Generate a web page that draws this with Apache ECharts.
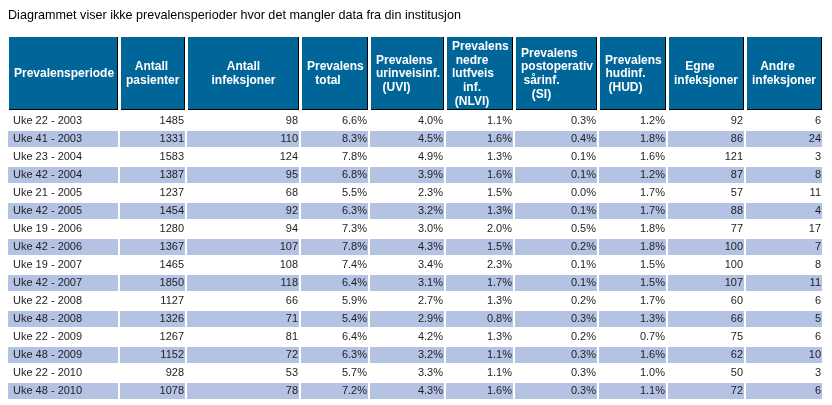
<!DOCTYPE html>
<html>
<head>
<meta charset="utf-8">
<script src="https://cdn.jsdelivr.net/npm/echarts@6/dist/echarts.min.js"></script>
<style>
  html, body { margin: 0; padding: 0; background: #ffffff; }
  #chart { width: 832px; height: 405px; }
</style>
</head>
<body>
<div id="chart"></div>
<script>
// ---------------- DATA ----------------
const titleText = 'Diagrammet viser ikke prevalensperioder hvor det mangler data fra din institusjon';

const headerLabels = [
  'Prevalensperiode',
  'Antall\npasienter',
  'Antall\ninfeksjoner',
  'Prevalens\ntotal',
  'Prevalens\nurinveisinf.\n(UVI)',
  'Prevalens\nnedre\nlutfveis\ninf.\n(NLVI)',
  'Prevalens\npostoperativ\nsårinf.\n(SI)',
  'Prevalens\nhudinf.\n(HUD)',
  'Egne\ninfeksjoner',
  'Andre\ninfeksjoner'
];

const periods = [
  'Uke 22 - 2003', 'Uke 41 - 2003', 'Uke 23 - 2004', 'Uke 42 - 2004',
  'Uke 21 - 2005', 'Uke 42 - 2005', 'Uke 19 - 2006', 'Uke 42 - 2006',
  'Uke 19 - 2007', 'Uke 42 - 2007', 'Uke 22 - 2008', 'Uke 48 - 2008',
  'Uke 22 - 2009', 'Uke 48 - 2009', 'Uke 22 - 2010', 'Uke 48 - 2010'
];
const patients   = [1485, 1331, 1583, 1387, 1237, 1454, 1280, 1367, 1465, 1850, 1127, 1326, 1267, 1152, 928, 1078];
const infections = [98, 110, 124, 95, 68, 92, 94, 107, 108, 118, 66, 71, 81, 72, 53, 78];
const prevTotal  = [6.6, 8.3, 7.8, 6.8, 5.5, 6.3, 7.3, 7.8, 7.4, 6.4, 5.9, 5.4, 6.4, 6.3, 5.7, 7.2];
const prevUVI    = [4.0, 4.5, 4.9, 3.9, 2.3, 3.2, 3.0, 4.3, 3.4, 3.1, 2.7, 2.9, 4.2, 3.2, 3.3, 4.3];
const prevNLVI   = [1.1, 1.6, 1.3, 1.6, 1.5, 1.3, 2.0, 1.5, 2.3, 1.7, 1.3, 0.8, 1.3, 1.1, 1.1, 1.6];
const prevSI     = [0.3, 0.4, 0.1, 0.1, 0.0, 0.1, 0.5, 0.2, 0.1, 0.1, 0.2, 0.3, 0.2, 0.3, 0.3, 0.3];
const prevHUD    = [1.2, 1.8, 1.6, 1.2, 1.7, 1.7, 1.8, 1.8, 1.5, 1.5, 1.7, 1.3, 0.7, 1.6, 1.0, 1.1];
const ownInf     = [92, 86, 121, 87, 57, 88, 77, 100, 100, 107, 60, 66, 75, 62, 50, 72];
const otherInf   = [6, 24, 3, 8, 11, 4, 17, 7, 8, 11, 6, 5, 6, 10, 3, 6];

// ---------------- LAYOUT / STYLE ----------------
const COL_EDGES = [0, 112, 179, 293, 362, 438, 507, 591, 660, 738, 816];
const CELL_GAP = 2;
const HEADER_PAD = 5;
const HEADER_CONTENT_W = [97, 51, 101, 42, 41, 40, 41, 41, 52, 51];
const HEADER_LINE_H = 13.75;
const HEADER_BLUE = '#006699';
const BAND_COLOR = '#b4c3e4';
const TEXT_COLOR = '#1e1e1e';
const FONT_FAMILY = '"Liberation Sans", Arial, Helvetica, sans-serif';
const HEADER_FONT = 'bold 12px ' + FONT_FAMILY;
const BODY_FONT = '11px ' + FONT_FAMILY;

const columns = [periods, patients, infections, prevTotal, prevUVI, prevNLVI, prevSI, prevHUD, ownInf, otherInf];
const percentCols = [3, 4, 5, 6, 7];

function cellText(c, r) {
  const v = columns[c][r];
  if (percentCols.indexOf(c) >= 0) return v.toFixed(1) + '%';
  return String(v);
}

const measureCtx = document.createElement('canvas').getContext('2d');
function textWidth(t, font) {
  measureCtx.font = font;
  return measureCtx.measureText(t).width;
}

// data items: [xStart, xEnd, rowIndex, colIndex]
const headerItems = headerLabels.map((h, c) => [COL_EDGES[c], COL_EDGES[c + 1] - CELL_GAP, 0, c]);
const bodyItems = [];
periods.forEach((p, r) => {
  columns.forEach((col, c) => {
    bodyItems.push([COL_EDGES[c], COL_EDGES[c + 1] - CELL_GAP, r, c]);
  });
});

function renderHeader(params, api) {
  const c = api.value(3);
  const pA = api.coord([api.value(0), 0]);
  const pB = api.coord([api.value(1), 0]);
  const h = api.size([0, 1])[1];
  const x0 = Math.round(pA[0]), x1 = Math.round(pB[0]);
  const y0 = Math.round(pA[1] - h / 2), y1 = Math.round(pA[1] + h / 2);
  const children = [
    { type: 'rect', shape: { x: x0 + 1, y: y0 + 1, width: x1 - x0 - 1, height: y1 - y0 - 1 }, style: { fill: '#000000' } },
    { type: 'rect', shape: { x: x0 + 1, y: y0 + 1, width: x1 - x0 - 2, height: y1 - y0 - 2 }, style: { fill: HEADER_BLUE } }
  ];
  const lines = headerLabels[c].split('\n');
  const cy = (y0 + y1) / 2 + 1;
  const left = x0 + 1 + HEADER_PAD;
  const cw = HEADER_CONTENT_W[c];
  lines.forEach((ln, i) => {
    const w = textWidth(ln, HEADER_FONT);
    children.push({
      type: 'text',
      style: {
        text: ln,
        x: left + Math.max(0, (cw - w) / 2),
        y: cy + (i - (lines.length - 1) / 2) * HEADER_LINE_H,
        align: 'left',
        verticalAlign: 'middle',
        font: HEADER_FONT,
        fill: '#ffffff'
      }
    });
  });
  return { type: 'group', children: children };
}

function renderBody(params, api) {
  const r = api.value(2), c = api.value(3);
  const pA = api.coord([api.value(0), r]);
  const pB = api.coord([api.value(1), r]);
  const h = api.size([0, 1])[1];
  const x0 = Math.round(pA[0]), x1 = Math.round(pB[0]);
  const cy = pA[1];
  const children = [];
  if (r % 2 === 1) {
    children.push({ type: 'rect', shape: { x: x0, y: Math.round(cy - h / 2 + 1), width: x1 - x0, height: h - 2 }, style: { fill: BAND_COLOR } });
  }
  children.push({
    type: 'text',
    style: {
      text: cellText(c, r),
      x: c === 0 ? x0 + 5 : x1 - 1,
      y: cy,
      align: c === 0 ? 'left' : 'right',
      verticalAlign: 'middle',
      font: BODY_FONT,
      fill: TEXT_COLOR
    }
  });
  return { type: 'group', children: children };
}

const chart = echarts.init(document.getElementById('chart'), null, { renderer: 'canvas' });
chart.setOption({
  animation: false,
  backgroundColor: '#ffffff',
  title: {
    text: titleText,
    left: 3,
    top: 4,
    textStyle: { fontSize: 12.6, fontWeight: 'normal', color: '#000000', fontFamily: FONT_FAMILY }
  },
  grid: [
    { left: 8, width: 816, top: 36, height: 74 },
    { left: 8, width: 816, top: 112, height: 288 }
  ],
  xAxis: [
    { gridIndex: 0, type: 'value', min: 0, max: 816, show: false },
    { gridIndex: 1, type: 'value', min: 0, max: 816, show: false }
  ],
  yAxis: [
    { gridIndex: 0, type: 'category', data: ['header'], show: false },
    { gridIndex: 1, type: 'category', data: periods, inverse: true, show: false }
  ],
  series: [
    {
      type: 'custom', xAxisIndex: 0, yAxisIndex: 0, clip: false,
      encode: { x: [0, 1], y: 2 },
      data: headerItems,
      renderItem: renderHeader
    },
    {
      type: 'custom', xAxisIndex: 1, yAxisIndex: 1, clip: false,
      encode: { x: [0, 1], y: 2 },
      data: bodyItems,
      renderItem: renderBody
    }
  ]
});
</script>
</body>
</html>
